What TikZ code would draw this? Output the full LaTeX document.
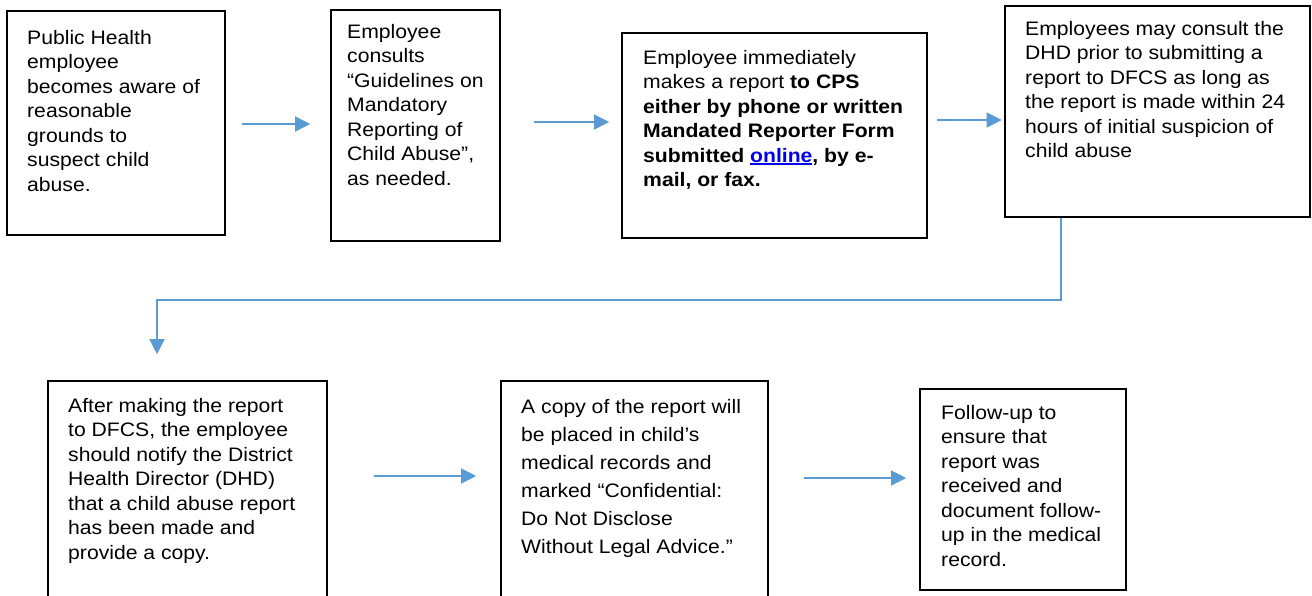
\documentclass[tikz,border=0pt]{standalone}
\usepackage{fontspec}
\setmainfont{Liberation Sans}[FakeStretch=1.085]
\usetikzlibrary{arrows.meta,fit}

\definecolor{flowblue}{HTML}{5B9BD5}
\definecolor{linkblue}{HTML}{0000EE}

% underlined hyperlink-style word
\newcommand\linkul[1]{{\color{linkblue}\setbox0\hbox{#1}\rlap{\rule[-2.6pt]{\wd0}{1.8pt}}\box0}}
% left-aligned block of lines whose baseline is the first line
\newcommand\textlines[1]{\begin{tabular}[t]{@{}l@{}}#1\end{tabular}}

\tikzset{
  stepbox/.style={draw=black, line width=1.6pt, inner sep=0pt, fill=none},
  txt/.style={inner sep=0pt, anchor=base west, font=\fontsize{19.5}{24.5}\selectfont},
  txtloose/.style={txt, font=\fontsize{19.5}{28}\selectfont},
  conn/.style={draw=flowblue, line width=1.3pt,
    -{Triangle[length=15pt,width=15pt,fill=flowblue]}},
}

\begin{document}
\begin{tikzpicture}[x=1pt,y=-1pt]
\useasboundingbox (0,0) rectangle (1312,595);

% ---- boxes ----
\node[stepbox, fit={(7,11) (225,235)}] (b1) {};
\node[stepbox, fit={(331,10) (500,241)}] (b2) {};
\node[stepbox, fit={(622,33) (927,238)}] (b3) {};
\node[stepbox, fit={(1005,6) (1310,217)}] (b4) {};
\node[stepbox, fit={(48,381) (327,602)}] (b5) {};
\node[stepbox, fit={(501,381) (768,602)}] (b6) {};
\node[stepbox, fit={(920,389) (1126,590)}] (b7) {};

% ---- texts ----
\node[txt] (t1) at (27,44) {\textlines{Public Health\\employee\\becomes aware of\\reasonable\\grounds to\\suspect child\\abuse.}};
\node[txt] (t2) at (347,38) {\textlines{Employee\\consults\\“Guidelines on\\Mandatory\\Reporting of\\Child Abuse”,\\as needed.}};
\node[txt] (t3) at (643,64) {\textlines{Employee immediately\\makes a report \textbf{to CPS}\\\textbf{either by phone or written}\\\textbf{Mandated Reporter Form}\\\textbf{submitted \linkul{online}, by e-}\\\textbf{mail, or fax.}}};
\node[txt] (t4) at (1025,35) {\textlines{Employees may consult the\\DHD prior to submitting a\\report to DFCS as long as\\the report is made within 24\\hours of initial suspicion of\\child abuse}};
\node[txt] (t5) at (68,412) {\textlines{After making the report\\to DFCS, the employee\\should notify the District\\Health Director (DHD)\\that a child abuse report\\has been made and\\provide a copy.}};
\node[txtloose] (t6) at (521,413) {\textlines{A copy of the report will\\be placed in child’s\\medical records and\\marked “Confidential:\\Do Not Disclose\\Without Legal Advice.”}};
\node[txt] (t7) at (941,419) {\textlines{Follow-up to\\ensure that\\report was\\received and\\document follow-\\up in the medical\\record.}};

% ---- connectors ----
\draw[conn, shorten <=16pt, shorten >=20pt] (b1.east |- 0,124) -- (b2.west |- 0,124);
\draw[conn, shorten <=33pt, shorten >=12pt] (b2.east |- 0,122) -- (b3.west |- 0,122);
\draw[conn, shorten <=9.5pt, shorten >=2.5pt] (b3.east |- 0,120) -- (b4.west |- 0,120);
\draw[conn, shorten >=26pt] (b4.south -| 1061,0) |- (157,300) -- (b5.north -| 157,0);
\draw[conn, shorten <=46pt, shorten >=24pt] (b5.east |- 0,476) -- (b6.west |- 0,476);
\draw[conn, shorten <=35pt, shorten >=13pt] (b6.east |- 0,478) -- (b7.west |- 0,478);
\end{tikzpicture}
\end{document}
